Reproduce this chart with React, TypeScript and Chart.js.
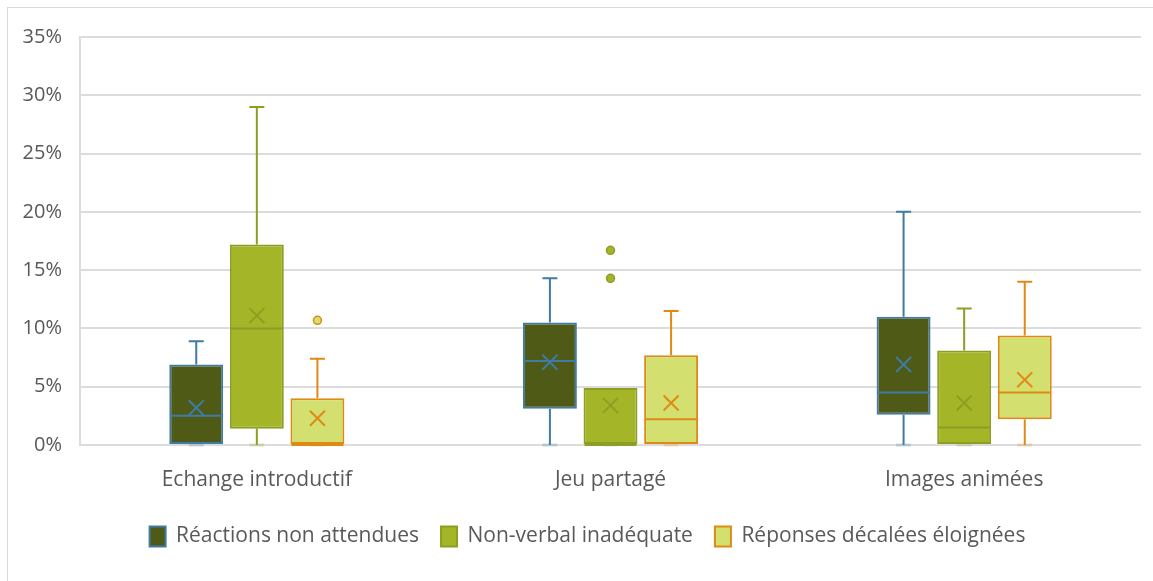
import React, { useEffect, useRef } from 'react';
import { Chart, registerables } from 'chart.js';

Chart.register(...registerables);

const categories = ['Echange introductif', 'Jeu partagé', 'Images animées'];
const seriesNames = ['Réactions non attendues', 'Non-verbal inadéquate', 'Réponses décalées éloignées'];
const fillColors = ['#4E5A16', '#A4B528', '#D3E06F'];
const borderColors = ['#3F7BA5', '#8E9E24', '#E08A16'];

// values in %
const reactionsMin = [0, 0, 0];
const reactionsQ1 = [0, 3.1, 2.6];
const reactionsMedian = [2.5, 7.2, 4.5];
const reactionsQ3 = [6.9, 10.5, 11.0];
const reactionsMax = [8.9, 14.3, 20.0];
const reactionsMean = [3.2, 7.1, 6.9];
const reactionsOutliers: number[][] = [[], [], []];

const nonVerbalMin = [0, 0, 0];
const nonVerbalQ1 = [1.4, 0, 0];
const nonVerbalMedian = [10.0, 0, 1.5];
const nonVerbalQ3 = [17.2, 4.9, 8.1];
const nonVerbalMax = [29.0, 4.9, 11.7];
const nonVerbalMean = [11.1, 3.4, 3.6];
const nonVerbalOutliers: number[][] = [[], [14.3, 16.7], []];

const reponsesMin = [0, 0, 0];
const reponsesQ1 = [0, 0, 2.2];
const reponsesMedian = [0, 2.2, 4.5];
const reponsesQ3 = [4.0, 7.7, 9.4];
const reponsesMax = [7.4, 11.5, 14.0];
const reponsesMean = [2.3, 3.6, 5.6];
const reponsesOutliers: number[][] = [[10.7], [], []];

const yTickValues = [0, 5, 10, 15, 20, 25, 30, 35];

const stats = [
  { min: reactionsMin, q1: reactionsQ1, med: reactionsMedian, q3: reactionsQ3, max: reactionsMax, mean: reactionsMean, out: reactionsOutliers },
  { min: nonVerbalMin, q1: nonVerbalQ1, med: nonVerbalMedian, q3: nonVerbalQ3, max: nonVerbalMax, mean: nonVerbalMean, out: nonVerbalOutliers },
  { min: reponsesMin, q1: reponsesQ1, med: reponsesMedian, q3: reponsesQ3, max: reponsesMax, mean: reponsesMean, out: reponsesOutliers },
];

const FONT = '"Open Sans", Lato, sans-serif';
const TEXT = '#595959';

function hexA(hex: string, a: number) {
  const n = parseInt(hex.slice(1), 16);
  return `rgba(${(n >> 16) & 255},${(n >> 8) & 255},${n & 255},${a})`;
}

const widenAxisPlugin = {
  id: 'widenAxis',
  afterLayout(chart: any) {
    chart.scales.y.left = 0;
  },
};

const boxPlugin = {
  id: 'boxExtras',
  afterDatasetsDraw(chart: any) {
    const ctx = chart.ctx;
    const ys = chart.scales.y;
    stats.forEach((s, d) => {
      const meta = chart.getDatasetMeta(d);
      meta.data.forEach((bar: any, i: number) => {
        const x = bar.x;
        const w = bar.width;
        const col = borderColors[d];
        const cap = 7.5;
        ctx.save();
        ctx.lineWidth = 2;
        ctx.strokeStyle = col;
        ctx.lineCap = 'butt';
        if (s.max[i] > s.q3[i]) {
          ctx.beginPath();
          ctx.moveTo(x, ys.getPixelForValue(s.q3[i]));
          ctx.lineTo(x, ys.getPixelForValue(s.max[i]));
          ctx.moveTo(x - cap, ys.getPixelForValue(s.max[i]));
          ctx.lineTo(x + cap, ys.getPixelForValue(s.max[i]));
          ctx.stroke();
        }
        if (s.q1[i] > s.min[i]) {
          ctx.beginPath();
          ctx.moveTo(x, ys.getPixelForValue(s.q1[i]));
          ctx.lineTo(x, ys.getPixelForValue(s.min[i]));
          ctx.stroke();
        }
        ctx.strokeStyle = hexA(col, 0.25);
        ctx.lineWidth = 3;
        ctx.beginPath();
        ctx.moveTo(x - cap, ys.getPixelForValue(s.min[i]));
        ctx.lineTo(x + cap, ys.getPixelForValue(s.min[i]));
        ctx.stroke();
        ctx.strokeStyle = col;
        ctx.lineWidth = 2;
        ctx.beginPath();
        ctx.moveTo(x - w / 2 + 1, ys.getPixelForValue(s.med[i]));
        ctx.lineTo(x + w / 2 - 1, ys.getPixelForValue(s.med[i]));
        ctx.stroke();
        const my = ys.getPixelForValue(s.mean[i]);
        const m = 7.5;
        ctx.beginPath();
        ctx.moveTo(x - m, my - m);
        ctx.lineTo(x + m, my + m);
        ctx.moveTo(x + m, my - m);
        ctx.lineTo(x - m, my + m);
        ctx.stroke();
        s.out[i].forEach((v) => {
          ctx.beginPath();
          ctx.arc(x, ys.getPixelForValue(v), 4, 0, Math.PI * 2);
          ctx.fillStyle = fillColors[d];
          ctx.fill();
          ctx.lineWidth = 1.5;
          ctx.stroke();
        });
        ctx.restore();
      });
    });
  },
};

export default function App() {
  const ref = useRef<HTMLCanvasElement>(null);

  useEffect(() => {
    if (!ref.current) return;
    const chart = new Chart(ref.current, {
      type: 'bar',
      data: {
        labels: categories,
        datasets: stats.map((s, d) => ({
          label: seriesNames[d],
          data: categories.map((_, i) => [s.q1[i], s.q3[i]] as [number, number]),
          backgroundColor: fillColors[d],
          borderColor: borderColors[d],
          borderWidth: 2,
          borderSkipped: false,
          categoryPercentage: 0.514,
          barPercentage: 0.89,
        })),
      },
      options: {
        animation: false,
        responsive: false,
        layout: { padding: { top: 37, right: 12, bottom: 24, left: 34 } },
        plugins: {
          tooltip: { enabled: false },
          legend: {
            position: 'bottom',
            labels: {
              boxWidth: 16,
              boxHeight: 20,
              padding: 22,
              color: TEXT,
              font: { family: FONT, size: 21 },
            },
          },
        },
        scales: {
          x: {
            grid: { display: false, drawTicks: false },
            border: { display: false },
            ticks: { padding: 22, color: TEXT, font: { family: FONT, size: 21 } },
            afterFit: (s: any) => { s.height = 59; },
          },
          y: {
            min: 0,
            max: 35,
            afterBuildTicks: (s: any) => { s.ticks = yTickValues.map((v) => ({ value: v })); },
            ticks: {
              padding: 18,
              color: TEXT,
              font: { family: FONT, size: 20 },
              callback: (v: any) => `${v}%`,
            },
            grid: { color: '#dcdcdc', drawTicks: false, lineWidth: 2 },
            border: { display: true, color: '#dcdcdc', width: 2 },
            afterFit: (s: any) => { s.width = 46; },
          },
        },
      },
      plugins: [widenAxisPlugin, boxPlugin],
    });
    return () => chart.destroy();
  }, []);

  return (
    <div style={{ position: 'fixed', left: 0, top: 0, width: 1153, height: 581, background: '#fff' }}>
      <div style={{ position: 'absolute', left: 7, top: 7, right: 0, bottom: 0, borderLeft: '1px solid #d9d9d9', borderTop: '1px solid #d9d9d9' }} />
      <canvas ref={ref} width={1153} height={581} style={{ position: 'absolute', left: 0, top: 0 }} />
    </div>
  );
}
